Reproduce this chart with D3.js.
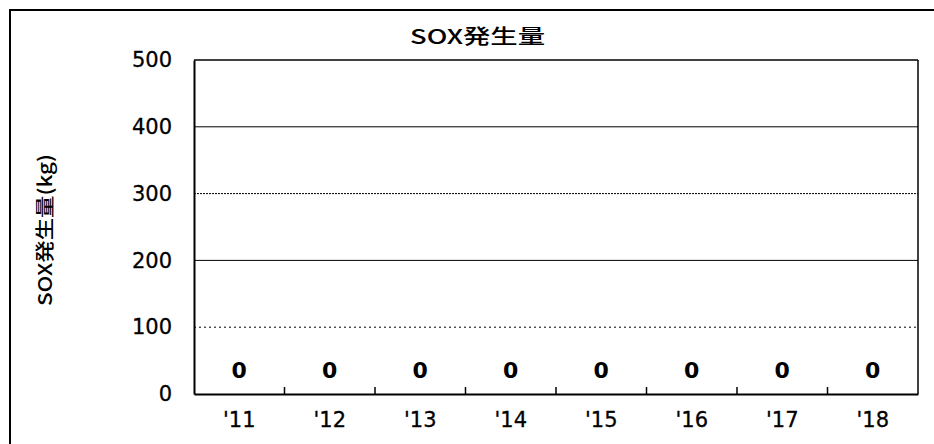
<!DOCTYPE html>
<html>
<head>
<meta charset="utf-8">
<script src="https://cdn.jsdelivr.net/npm/d3@7"></script>
<style>
  html, body { margin: 0; padding: 0; background: #fff; }
  svg { display: block; }
</style>
</head>
<body>
<svg id="chart" width="934" height="444"></svg>
<script>
// Fiscal years and SOX emissions (kg)
const years = ["'11", "'12", "'13", "'14", "'15", "'16", "'17", "'18"];
const soxValues = [0, 0, 0, 0, 0, 0, 0, 0];
const yTicks = [0, 100, 200, 300, 400, 500];
const chartTitle = "SOX発生量";
const yAxisTitle = "SOX発生量(kg)";

const svg = d3.select("#chart");
const plot = { left: 194, right: 918, top: 60, bottom: 394 };
const numFont = "'DejaVu Sans', sans-serif";
const cjkFont = "'Noto Sans CJK JP', 'Noto Sans', sans-serif";

const x = d3.scaleBand().domain(years).range([plot.left, plot.right]).padding(0);
const y = d3.scaleLinear().domain([0, 500]).range([plot.bottom, plot.top]);

// Outer chart frame (runs off the right and bottom edges)
svg.append("rect")
  .attr("x", 10).attr("y", 10)
  .attr("width", 1000).attr("height", 500)
  .attr("fill", "none").attr("stroke", "#000").attr("stroke-width", 2);

// Title, centred over the chart frame
svg.append("text")
  .attr("x", 410).attr("y", 44)
  .attr("textLength", 135).attr("lengthAdjust", "spacingAndGlyphs")
  .attr("font-family", cjkFont).attr("font-size", 20).attr("font-weight", 500)
  .attr("fill", "#000")
  .text(chartTitle);

// Horizontal gridlines
const gridStyle = { 100: "2,3", 200: null, 300: "2,1", 400: null };
svg.append("g")
  .selectAll("line")
  .data(yTicks.filter(d => d > 0 && d < 500))
  .join("line")
  .attr("x1", plot.left).attr("x2", plot.right)
  .attr("y1", d => y(d)).attr("y2", d => y(d))
  .attr("stroke", "#000").attr("stroke-width", 1)
  .attr("stroke-dasharray", d => gridStyle[d]);

// Plot border: top and right thin, left and bottom axes heavier
svg.append("line")
  .attr("x1", plot.left).attr("x2", plot.right)
  .attr("y1", y(500)).attr("y2", y(500))
  .attr("stroke", "#000").attr("stroke-width", 1.5);
svg.append("line")
  .attr("x1", plot.right).attr("x2", plot.right)
  .attr("y1", y(500)).attr("y2", y(0))
  .attr("stroke", "#000").attr("stroke-width", 1.5);

// Y axis
const yAxis = svg.append("g")
  .attr("transform", `translate(${plot.left},0)`)
  .call(d3.axisLeft(y).tickValues(yTicks).tickSize(0).tickPadding(22));
yAxis.select(".domain").attr("stroke", "#000").attr("stroke-width", 2);
yAxis.selectAll("text")
  .attr("font-family", numFont).attr("font-size", 21).attr("fill", "#000")
  .attr("stroke", "#000").attr("stroke-width", 0.3);

// X axis with inward ticks at category boundaries
const xAxis = svg.append("g")
  .attr("transform", `translate(0,${plot.bottom})`)
  .call(d3.axisBottom(x).tickSize(0).tickPadding(18));
xAxis.select(".domain").attr("stroke", "#000").attr("stroke-width", 2);
xAxis.selectAll("text")
  .attr("font-family", numFont).attr("font-size", 21).attr("fill", "#000")
  .attr("stroke", "#000").attr("stroke-width", 0.3);

svg.append("g")
  .selectAll("line")
  .data(years.slice(1))
  .join("line")
  .attr("x1", d => x(d)).attr("x2", d => x(d))
  .attr("y1", plot.bottom).attr("y2", plot.bottom - 7)
  .attr("stroke", "#000").attr("stroke-width", 1.5);

// Bars (zero height for every year) and their value labels
svg.append("g")
  .selectAll("rect")
  .data(soxValues)
  .join("rect")
  .attr("x", (d, i) => x(years[i]) + x.bandwidth() * 0.2)
  .attr("width", x.bandwidth() * 0.6)
  .attr("y", d => y(d))
  .attr("height", d => y(0) - y(d))
  .attr("fill", "#000");

svg.append("g")
  .selectAll("text")
  .data(soxValues)
  .join("text")
  .attr("x", (d, i) => x(years[i]) + x.bandwidth() / 2)
  .attr("y", d => y(d) - 16)
  .attr("text-anchor", "middle")
  .attr("font-family", numFont).attr("font-weight", "bold").attr("font-size", 22)
  .attr("fill", "#000")
  .text(d => d3.format("d")(d));

// Y axis title
svg.append("text")
  .attr("transform", "translate(52,230) rotate(-90)")
  .attr("text-anchor", "middle")
  .attr("textLength", 152).attr("lengthAdjust", "spacingAndGlyphs")
  .attr("font-family", cjkFont).attr("font-size", 19).attr("font-weight", 500)
  .attr("fill", "#000")
  .text(yAxisTitle);
</script>
</body>
</html>
